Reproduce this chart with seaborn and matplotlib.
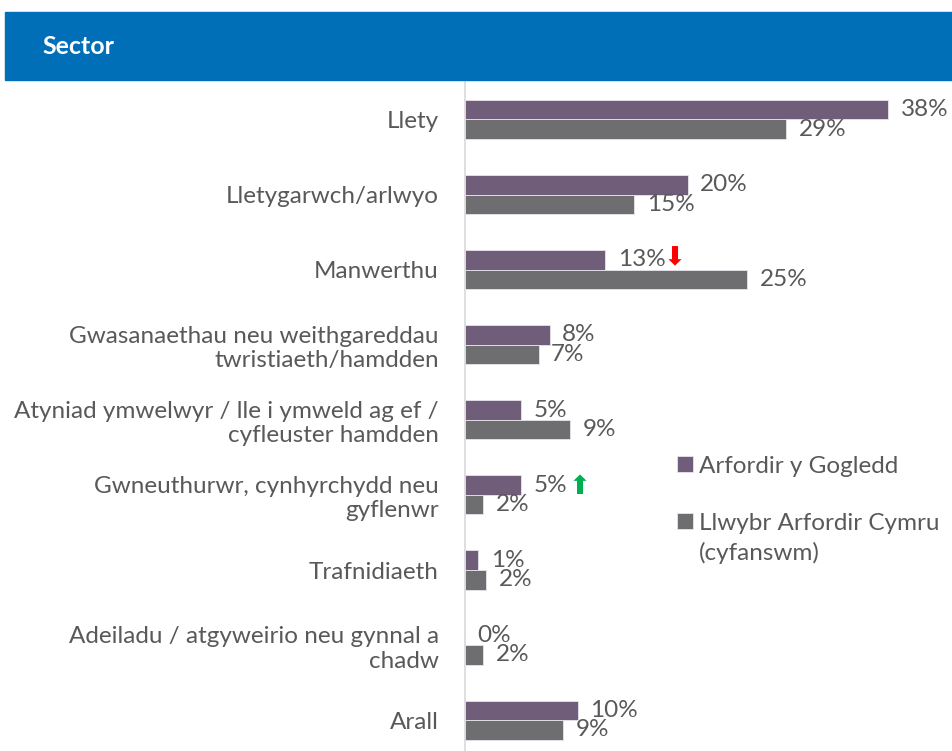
import pandas as pd
import matplotlib
matplotlib.use('Agg')
from matplotlib import pyplot as plt
from matplotlib.patches import Rectangle
from matplotlib.legend_handler import HandlerPatch
import seaborn as sns


sectors = [
    'Llety',
    'Lletygarwch/arlwyo',
    'Manwerthu',
    'Gwasanaethau neu weithgareddau\ntwristiaeth/hamdden',
    'Atyniad ymwelwyr / lle i ymweld ag ef /\ncyfleuster hamdden',
    'Gwneuthurwr, cynhyrchydd neu\ngyflenwr',
    'Trafnidiaeth',
    'Adeiladu / atgyweirio neu gynnal a\nchadw',
    'Arall',
]
north_coast = [38.0, 20.0, 12.6, 7.6, 5.0, 5.0, 1.2, 0.0, 10.1]
all_wales = [28.8, 15.2, 25.3, 6.6, 9.4, 1.6, 1.9, 1.6, 8.8]
series_names = ['Arfordir y Gogledd', 'Llwybr Arfordir Cymru\n(cyfanswm)']
colours = ['#71587f', '#6d6e71']

df = pd.DataFrame({
    'sector': sectors * 2,
    'pct': north_coast + all_wales,
    'series': [series_names[0]] * len(sectors) + [series_names[1]] * len(sectors),
})

sns.set_style('white')
plt.rcParams['font.family'] = ['Lato', 'DejaVu Sans']

fig = plt.figure(figsize=(9.53, 7.51), dpi=100)
ax = fig.add_axes([0.488, 0.0, 0.512, 0.891])

sns.barplot(data=df, y='sector', x='pct', hue='series', orient='h',
            palette=colours, width=0.52, edgecolor='#e8e4ec', linewidth=0.6,
            ax=ax)

for cont, vals in zip(ax.containers, [north_coast, all_wales]):
    ax.bar_label(cont, labels=[f'{round(v)}%' for v in vals], padding=9,
                 fontsize=17.5, color='#595959')

# change markers
ax.annotate('\u2b07', xy=(north_coast[2], 2 - 0.13), xytext=(50, 1),
            textcoords='offset points', ha='center', va='center',
            color='#ff0000', fontsize=19, family='DejaVu Sans')
ax.annotate('\u2b06', xy=(north_coast[5], 5 - 0.13), xytext=(42, -1),
            textcoords='offset points', ha='center', va='center',
            color='#00b050', fontsize=19, family='DejaVu Sans')

ax.set_xlim(0, 43.8)
ax.set_ylim(8.41, -0.5)
ax.set_xlabel('')
ax.set_ylabel('')
ax.set_xticks([])
ax.tick_params(axis='y', length=0, pad=19, labelsize=17.5, labelcolor='#595959')
for s in ['top', 'right', 'bottom']:
    ax.spines[s].set_visible(False)
ax.spines['left'].set_color('#d9d9d9')
ax.spines['left'].set_linewidth(1.2)


def square_handler(n_extra_lines):
    # multi-line labels: keep the square level with the first line
    def make(legend, orig_handle, xdescent, ydescent, width, height, fontsize):
        shift = 0.72 * fontsize * n_extra_lines
        return Rectangle((-xdescent, -ydescent + shift), width, height)
    return HandlerPatch(patch_func=make)


handles, labels = ax.get_legend_handles_labels()
leg = ax.legend(handles, labels, loc='upper left',
                bbox_to_anchor=(655 / 953, 1 - 434 / 751),
                bbox_transform=fig.transFigure, frameon=False, fontsize=17.5,
                handlelength=0.65, handleheight=0.65, handletextpad=0.25,
                labelspacing=1.47, labelcolor='#595959',
                handler_map={h: square_handler(lab.count('\n'))
                             for h, lab in zip(handles, labels)})
for t in leg.get_texts():
    t.set_linespacing(1.45)

# header band
fig.patches.append(Rectangle((5 / 953, 1 - 80 / 751), 1 - 5 / 953, 68 / 751,
                             transform=fig.transFigure, color='#006fb8', zorder=0))
fig.text(42 / 953, 1 - 46 / 751, 'Sector', color='white', fontsize=18,
         fontweight='bold', va='center', ha='left')

plt.savefig('out.png', dpi=100)
